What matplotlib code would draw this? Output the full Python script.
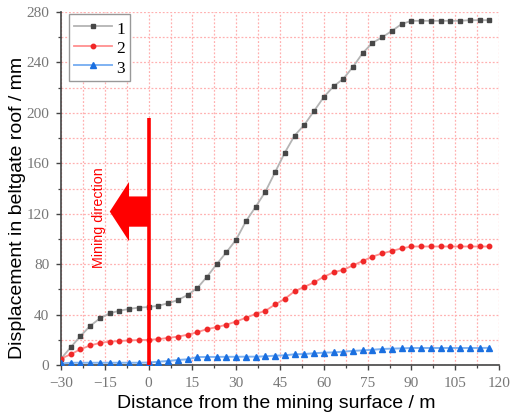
import matplotlib
matplotlib.use("Agg")
import matplotlib.pyplot as plt
from matplotlib.ticker import MultipleLocator

# ---- data ----
distance = [-30, -26.67, -23.33, -20, -16.67, -13.33, -10, -6.67, -3.33, 0,
            3.33, 6.67, 10, 13.33, 16.67, 20, 23.33, 26.67, 30, 33.33,
            36.67, 40, 43.33, 46.67, 50, 53.33, 56.67, 60, 63.33, 66.67,
            70, 73.33, 76.67, 80, 83.33, 86.67, 90, 93.33, 96.67, 100,
            103.33, 106.67, 110, 113.33, 116.67]

series_1 = [5, 14, 23, 31, 37, 41, 43, 44.5, 45.5, 46,
            47, 49, 51.5, 55.5, 61, 70, 80, 89.5, 99.5, 114,
            125.5, 137.5, 153, 168.5, 182, 190.5, 201.5, 212.5, 221, 227,
            236.5, 247.5, 255.5, 260, 265, 270.5, 273, 273, 273, 273,
            273, 273, 273.5, 273.5, 273.5]

series_2 = [5, 8.5, 12.5, 15.5, 17.5, 18.5, 19, 19.5, 19.8, 20,
            20.5, 21.5, 22.5, 24, 26, 28.5, 30, 32, 34.5, 37.5,
            40.5, 43, 48, 52.5, 58.5, 62, 65.5, 70, 73.5, 75.5,
            79, 82.5, 86, 88.5, 90.5, 92.5, 94, 94, 94, 94,
            94, 94, 94, 94, 94]

series_3 = [1.2, 1.8, 1.8, 1.8, 1.8, 1.8, 1.8, 1.8, 1.8, 2,
            2.6, 3.2, 4, 4.5, 6.3, 6.4, 6.4, 6.5, 6.5, 6.6,
            6.6, 6.9, 7.4, 7.7, 8.5, 8.7, 9.3, 9.8, 10, 10.6,
            11.2, 11.6, 12.1, 12.7, 13, 13.2, 13.5, 13.5, 13.5, 13.5,
            13.5, 13.5, 13.5, 13.5, 13.6]

series_labels = ["1", "2", "3"]
x_ticks = [-30, -15, 0, 15, 30, 45, 60, 75, 90, 105, 120]
y_ticks = [0, 40, 80, 120, 160, 200, 240, 280]

# ---- figure ----
fig = plt.figure(figsize=(5.12, 4.16), dpi=100)
ax = fig.add_axes([61/512, 51/416, 438/512, 353/416])

ax.plot(distance, series_1, color="#b4b4b4", lw=1.3, marker="s", ms=2.8,
        mfc="#474747", mec="#474747", label=series_labels[0], zorder=3)
ax.plot(distance, series_2, color="#ff9090", lw=1.3, marker="o", ms=3.2,
        mfc="#f02828", mec="#f02828", label=series_labels[1], zorder=3)
ax.plot(distance, series_3, color="#7fb2f2", lw=1.4, marker="^", ms=3.8,
        mfc="#1a6fe0", mec="#1a6fe0", label=series_labels[2], zorder=3)

# mining face line and direction arrow
ax.plot([0, 0], [0, 196], color="red", lw=2.6, zorder=5, solid_capstyle="butt")
ax.arrow(0, 121.7, -13.3, 0, width=24, head_width=47, head_length=6.6,
         length_includes_head=True, color="red", lw=0, zorder=5)
ax.text(-17.0, 116.6, "Mining direction", rotation=90, color="red",
        ha="center", va="center", fontsize=10.3, family="Liberation Sans")

ax.set_xlim(-30, 120)
ax.set_ylim(0, 280)
ax.set_xticks(x_ticks)
ax.set_yticks(y_ticks)
ax.xaxis.set_minor_locator(MultipleLocator(7.5))
ax.yaxis.set_minor_locator(MultipleLocator(20))

ax.grid(which="both", color="#ffb0b0", linestyle=(0, (1.5, 1.5)), lw=0.9, zorder=0)
ax.set_axisbelow(True)

for s in ["top", "right"]:
    ax.spines[s].set_visible(False)
for s in ["left", "bottom"]:
    ax.spines[s].set_color("#444444")
    ax.spines[s].set_linewidth(1.2)

ax.tick_params(which="major", direction="out", length=3.5, width=1, color="#444444",
               labelsize=11, labelcolor="#777777", pad=5)
ax.tick_params(which="minor", direction="out", length=2.5, width=0.9, color="#444444")
for lab in ax.get_xticklabels() + ax.get_yticklabels():
    lab.set_family("Liberation Serif")

ax.set_xlabel("Distance from the mining surface / m", fontsize=14,
              family="Liberation Sans")
ax.set_ylabel("Displacement in beltgate roof / mm", fontsize=14,
              family="Liberation Sans")
ax.xaxis.set_label_coords(0.492, -0.085)
ax.yaxis.set_label_coords(-0.08, 0.446)

leg = ax.legend(loc="upper left", bbox_to_anchor=(0.018, 0.994), borderaxespad=0,
                prop={"family": "Liberation Serif", "size": 12.5}, numpoints=1,
                fancybox=False, framealpha=1, edgecolor="#999999",
                handlelength=2.2, handletextpad=0.25, borderpad=0.27,
                handleheight=1.2, labelspacing=0.05)
leg.get_frame().set_linewidth(1.0)

fig.savefig("out.png", dpi=100)
